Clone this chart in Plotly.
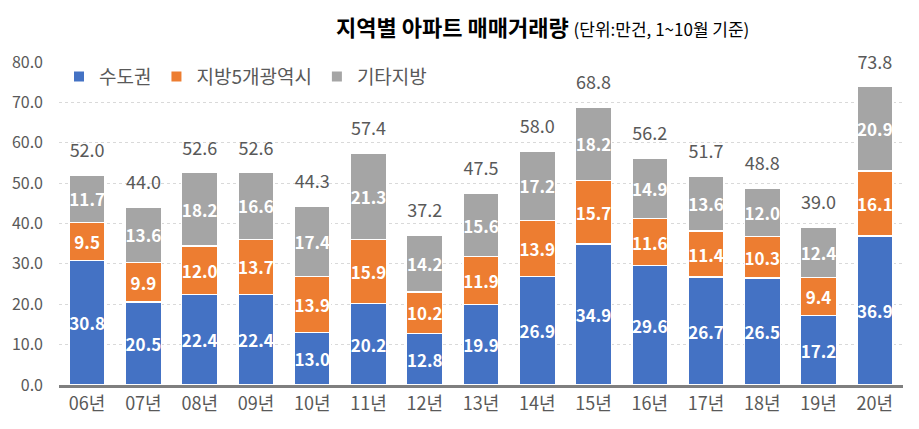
import plotly.graph_objects as go

categories = ["06년", "07년", "08년", "09년", "10년", "11년", "12년", "13년", "14년", "15년", "16년", "17년", "18년", "19년", "20년"]
capital = [30.8, 20.5, 22.4, 22.4, 13.0, 20.2, 12.8, 19.9, 26.9, 34.9, 29.6, 26.7, 26.5, 17.2, 36.9]
metro5 = [9.5, 9.9, 12.0, 13.7, 13.9, 15.9, 10.2, 11.9, 13.9, 15.7, 11.6, 11.4, 10.3, 9.4, 16.1]
others = [11.7, 13.6, 18.2, 16.6, 17.4, 21.3, 14.2, 15.6, 17.2, 18.2, 14.9, 13.6, 12.0, 12.4, 20.9]
totals = [52.0, 44.0, 52.6, 52.6, 44.3, 57.4, 37.2, 47.5, 58.0, 68.8, 56.2, 51.7, 48.8, 39.0, 73.8]
series_names = ["수도권", "지방5개광역시", "기타지방"]
yticks = [0, 10, 20, 30, 40, 50, 60, 70, 80]

FONT = "Noto Sans CJK KR"
colors = ["#4472C4", "#ED7D31", "#A5A5A5"]

fig = go.Figure()
for name, vals, col in zip(series_names, [capital, metro5, others], colors):
    fig.add_trace(go.Bar(
        x=categories, y=vals, name=name,
        marker=dict(color=col, line=dict(color="white", width=1.5)),
        text=[f"{v:.1f}" for v in vals],
        textposition="inside", insidetextanchor="middle", textangle=0,
        constraintext="none",
        textfont=dict(color="white", size=17, family=FONT, weight="bold"),
        hoverinfo="skip",
    ))

fig.add_trace(go.Scatter(
    x=categories, y=[t + 5.6 for t in totals], mode="text",
    text=[f"{t:.1f}" for t in totals], textposition="middle center",
    textfont=dict(color="#595959", size=18, family=FONT),
    showlegend=False, hoverinfo="skip", cliponaxis=False,
))

fig.update_layout(
    width=911, height=421,
    margin=dict(l=51, r=16, t=54, b=44, autoexpand=False),
    barmode="stack", bargap=0.36,
    plot_bgcolor="white", paper_bgcolor="white",
    font=dict(family=FONT, color="#595959"),
    uniformtext=dict(minsize=17, mode="show"),
    legend=dict(orientation="h", x=0.0, y=0.955, xanchor="left", yanchor="middle",
                traceorder="normal",
                font=dict(size=19, color="#595959", family=FONT),
                bgcolor="rgba(0,0,0,0)", itemwidth=30, itemsizing="constant"),
    xaxis=dict(range=[-0.5, len(categories) - 0.5], showgrid=False, showline=True,
               linecolor="#7F7F7F", linewidth=3,
               tickfont=dict(size=18, color="#595959"), ticks="", automargin=False),
    yaxis=dict(range=[0, 80], tickvals=yticks, ticktext=[f"{v:.1f}" for v in yticks],
               showgrid=True, gridcolor="#D9D9D9", griddash="dot", gridwidth=1,
               zeroline=False, tickfont=dict(size=16, color="#595959"),
               ticklabelstandoff=15, automargin=False),
    annotations=[dict(
        text="<b>지역별 아파트 매매거래량</b> <span style='font-size:17px'>(단위:만건, 1~10월 기준)</span>",
        xref="paper", yref="paper", x=0.573, y=1.0, yanchor="bottom", xanchor="center",
        yshift=18, showarrow=False, font=dict(size=22, color="#000000", family=FONT),
    )],
)

fig.write_html("out.html")
